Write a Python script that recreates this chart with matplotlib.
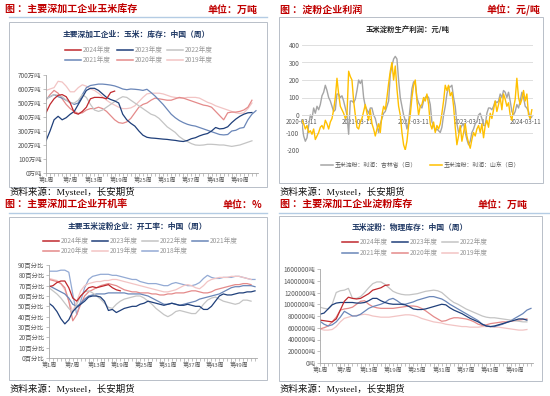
import numpy as np
import matplotlib.pyplot as plt
from matplotlib.lines import Line2D
from matplotlib.patches import Rectangle
from matplotlib.ticker import MultipleLocator, FuncFormatter

plt.rcParams['font.family'] = ['Noto Sans CJK SC', 'DejaVu Sans']
plt.rcParams['axes.unicode_minus'] = False

# ---- data: corn stock of deep-processing firms (10k t), by week ----
corn_2024 = [430, 490, 530, 555, 560, 545, 500, 430, 420, 440, 470, 530, 540, 540, 538, 530, 575, 585]
corn_2023 = [230, 300, 380, 405, 380, 395, 420, 440, 490, 540, 590, 605, 605, 590, 565, 540, 525, 515,
             500, 420, 380, 355, 335, 300, 270, 255, 250, 248, 245, 242, 240, 236, 233, 228, 225, 232,
             245, 252, 265, 275, 282, 300, 325, 315, 318, 330, 360, 385, 405, 420, 430, 432]
corn_2022 = [530, 545, 560, 555, 545, 520, 500, 500, 520, 560, 540, 490, 450, 440, 450, 470, 490, 510,
             530, 545, 540, 520, 500, 480, 460, 440, 420, 410, 390, 360, 330, 310, 290, 260, 240, 225,
             210, 200, 198, 200, 205, 205, 203, 200, 200, 195, 190, 195, 200, 210, 220, 230]
corn_2021 = [530, 545, 560, 545, 535, 520, 505, 490, 500, 560, 610, 625, 630, 635, 635, 632, 628, 622,
             612, 600, 595, 600, 598, 595, 590, 598, 575, 550, 520, 490, 455, 420, 395, 375, 360, 348,
             340, 335, 325, 315, 305, 295, 285, 275, 272, 275, 300, 305, 320, 325, 380, 420, 445]
corn_2020 = [520, 560, 590, 570, 530, 490, 460, 440, 425, 430, 450, 460, 460, 470, 460, 440, 410, 380,
             360, 355, 365, 390, 430, 470, 490, 500, 520, 535, 530, 525, 520, 520, 530, 540, 535, 525,
             515, 505, 495, 485, 480, 470, 440, 410, 380, 430, 435, 435, 440, 450, 470, 520]
corn_2019 = [590, 600, 610, 655, 650, 620, 580, 580, 610, 630, 620, 600, 590, 570, 545, 520, 500, 485,
             470, 460, 460, 465, 480, 510, 540, 565, 570, 570, 570, 565, 555, 545, 540, 535, 535, 540,
             540, 540, 535, 520, 505, 495, 480, 470, 460, 450, 440, 430, 425, 430, 460, 500]

# ---- data: starch profit (yuan/t), sampled along 2020-03 .. 2024-05 ----
profit_jilin = [-50, -120, -150, -130, -60, 0, -20, 40, 10, 50, 30, 60, 110, 130, 170, 140, 100, 80,
                50, 20, 30, 120, 120, 100, 110, 80, 40, 0, -110, 80, 80, 70, 90, 140, 200, 180, 200,
                100, 50, 30, 10, 40, 40, 0, -20, -60, -100, -50, -20, 10, 20, 50, 80, 230, 280, 320,
                335, 320, 200, 100, 50, 0, -30, -80, -40, 50, 150, 190, 180, 100, 70, 50, 40, 80, 100,
                110, 100, 60, -40, -60, -90, -80, -90, -100, -70, 0, 50, 120, 160, 160, 170, 100, 50,
                -50, -100, -80, -60, -50, -100, -140, -170, -150, -100, -80, -50, -40, 0, 10, -20,
                -60, -60, 10, 40, 40, 30, 50, 80, 70, 80, 120, 100, 140, 130, 100, 130, 80, 20, 0, 20,
                60, 40, 80, 130, 100, 50, 40, 20, -20, -10]
profit_shandong = [-30, -50, -80, -60, -100, -90, -110, -80, -140, -120, -100, -70, -60, -80, -30, -50,
                   -80, -40, -20, 30, 100, 210, 120, 50, 30, 10, -20, 0, 250, 220, 200, 80, 0, -70,
                   -80, -40, -20, 20, 60, 10, -30, 30, -50, -80, -120, -80, -50, -100, 0, 50, 30, 100,
                   180, 250, 300, 200, 280, 150, 50, 0, -100, -170, -200, -150, -60, 0, 100, 170, 200,
                   80, 0, 50, 60, 100, 80, 120, 60, -50, -80, -40, -100, -60, -80, -50, 10, 80, 170,
                   140, 170, 110, 130, 50, -70, -170, -120, -60, -150, -100, -50, -120, -160, -190,
                   -140, -100, -120, -80, -60, -100, -50, -130, -60, -30, -70, 10, -20, 30, 80, 20, 60,
                   100, 30, 120, 90, 50, 70, 0, -30, 40, 90, 210, 100, 60, 90, 140, 80, 120, 0, -20, 30]
profit_dates = ['2020-03-11', '2021-03-11', '2022-03-11', '2023-03-11', '2024-03-11']

# ---- data: corn starch plant operating rate (%), by week ----
rate_2024 = [69, 70, 73, 74.5, 74.5, 68, 58, 55, 60, 64, 68, 69, 68, 69, 70, 71, 68, 66, 65]
rate_2023 = [53, 50, 45, 38, 33, 37, 45, 49, 52, 55, 59, 60, 60, 59, 55, 46, 47, 44, 46, 48, 49, 50,
             50, 52, 53, 55, 54, 53, 52, 51, 52, 53, 52, 51, 51, 52, 51, 50, 50, 47, 47, 50, 55, 60,
             62, 61, 61, 62, 63, 63, 64, 64, 65]
rate_2022 = [68, 65, 62, 58, 53, 48, 44, 52, 60, 64, 65, 63, 60, 57, 53, 49, 48, 52, 55, 57, 58, 59,
             60, 60, 58, 55, 52, 48, 45, 42, 40, 42, 45, 46, 45, 44, 43, 43, 47, 52, 56, 58, 59, 57,
             55, 54, 53, 52, 53, 56, 56, 55]
rate_2021 = [70, 68, 66, 64, 62, 58, 52, 50, 53, 57, 60, 61, 62, 62, 62, 63, 63, 63, 63, 63, 62, 62,
             62, 62, 61, 60, 58, 56, 54, 52, 52, 53, 52, 51, 52, 53, 54, 55, 57, 58, 59, 60, 61, 62,
             64, 66, 68, 69, 69, 70, 70, 70, 69]
rate_2020 = [76, 75, 74, 72, 68, 55, 36, 42, 52, 60, 64, 66, 68, 70, 71, 72, 71, 70, 68, 66, 65, 64,
             64, 63, 63, 63, 62, 62, 61, 61, 62, 62, 63, 63, 63, 64, 65, 65, 64, 63, 63, 64, 66, 67,
             68, 69, 70, 71, 71, 72, 72, 71]
rate_2019 = [77, 76, 75, 72, 66, 55, 45, 55, 65, 70, 72, 73, 74, 74, 75, 75, 76, 76, 75, 74, 73, 72,
             71, 70, 69, 68, 67, 66, 65, 64, 64, 65, 66, 68, 70, 71, 70, 68, 67, 70, 74, 76, 77, 78,
             78, 78, 79, 79, 79, 78, 77, 76]
rate_2018 = [84, 84, 84, 85, 85, 83, 62, 42, 55, 68, 76, 79, 80, 81, 81, 81, 80, 80, 79, 78, 77, 76,
             76, 74, 73, 72, 72, 72, 71, 70, 70, 72, 73, 72, 71, 70, 70, 71, 73, 77, 80, 78, 77, 77,
             78, 78, 78, 79, 79, 78, 77, 76, 76]

# ---- data: corn starch physical stock (10k t), by week ----
starch_2024 = [73, 72, 71, 70, 75, 90, 105, 112, 110, 109, 110, 114, 118, 124, 126, 128, 132, 133]
starch_2023 = [83, 85, 92, 99, 102, 103, 103, 103, 103, 102, 102, 103, 106, 110, 110, 106, 103, 101,
               100, 100, 100, 99, 96, 92, 91, 91, 92, 94, 96, 98, 100, 99, 94, 90, 87, 84, 80, 76,
               73, 70, 66, 63, 62, 63, 65, 67, 69, 71, 73, 75, 75, 73]
starch_2022 = [95, 93, 92, 100, 120, 123, 124, 127, 110, 110, 113, 120, 128, 135, 138, 138, 134, 128,
               122, 119, 117, 116, 116, 117, 118, 120, 122, 123, 124, 123, 120, 114, 108, 103, 100,
               96, 92, 89, 86, 83, 80, 78, 77, 77, 76, 75, 74, 73, 72, 71, 70, 70]
starch_2021 = [71, 66, 63, 65, 70, 78, 88, 84, 80, 80, 83, 88, 93, 96, 98, 100, 103, 108, 110, 106,
               101, 100, 102, 104, 107, 109, 111, 113, 113, 111, 109, 105, 100, 96, 92, 88, 84, 80,
               76, 72, 66, 63, 62, 62, 64, 66, 69, 72, 76, 80, 84, 90, 93]
starch_2020 = [58, 60, 63, 70, 78, 90, 92, 93, 95, 100, 105, 106, 100, 96, 94, 93, 93, 93, 93, 94, 95,
               96, 97, 97, 96, 93, 89, 84, 79, 75, 71, 72, 75, 77, 77, 76, 75, 73, 70, 66, 64, 65,
               67, 68, 69, 70, 70, 71, 72, 73, 74, 75]
starch_2019 = [58, 56, 56, 57, 62, 70, 76, 78, 80, 81, 82, 83, 82, 80, 79, 78, 78, 78, 79, 80, 81, 82,
               82, 81, 79, 76, 74, 72, 70, 69, 68, 66, 65, 64, 63, 62, 62, 61, 61, 61, 62, 62, 62,
               61, 61, 60, 59, 58, 57, 56, 56, 57]

week_ticks = [1, 7, 13, 19, 25, 31, 37, 43, 49]
week_labels = [f'第{w}周' for w in week_ticks]

C24, C23, C22, C21 = '#C0282D', '#1F3F7A', '#C4C4C4', '#6A86B8'
C20, C19, C18 = '#E48A8A', '#F2C4C4', '#93AAD4'
RED, NAVY, BOX, HLINE = '#C00000', '#1F3864', '#B8BFC8', '#B4CCE4'

W, H = 550, 396
fig = plt.figure(figsize=(W / 100, H / 100), dpi=100)


def ftext(x, y, s, **kw):
    fig.text(x / W, 1 - y / H, s, **kw)


def fline(x0, x1, y0, y1, **kw):
    fig.add_artist(Line2D([x0 / W, x1 / W], [1 - y0 / H, 1 - y1 / H],
                          transform=fig.transFigure, **kw))


def fbox(x0, y0, x1, y1):
    fig.add_artist(Rectangle((x0 / W, 1 - y1 / H), (x1 - x0) / W, (y1 - y0) / H,
                             transform=fig.transFigure, fill=False, ec=BOX, lw=0.7))


def axes_px(l, t, r, b):
    ax = fig.add_axes([l / W, 1 - b / H, (r - l) / W, (b - t) / H])
    ax.patch.set_alpha(0)
    return ax


def header(x, y, title, unit, unit_right):
    ftext(x, y, title, fontsize=7.2, fontweight='bold', color=RED, va='center')
    ftext(unit_right, y, unit, fontsize=7.2, fontweight='bold', color=RED, va='center', ha='right')


def source(x, y):
    ftext(x, y, '资料来源：Mysteel，长安期货', fontsize=6.8, color='#111111', va='center',
          family=['Liberation Serif', 'Noto Sans CJK SC'])


def legend(entries, xs, ys, size=4.8):
    for (label, color), x, y in zip(entries, xs, ys):
        fline(x, x + 16, y, y, color=color, lw=1.1)
        ftext(x + 18, y, label, fontsize=size, color='#999999', va='center')


def week_panel(ax, series, ymax, step, fmt):
    for vals, color in series[::-1]:
        ax.plot(np.arange(1, len(vals) + 1), vals, color=color, lw=0.9)
    ax.set_xlim(1, 53.5)
    ax.set_ylim(0, ymax)
    ax.yaxis.set_major_locator(MultipleLocator(step))
    ax.yaxis.set_major_formatter(FuncFormatter(fmt))
    ax.set_xticks(week_ticks)
    ax.set_xticklabels(week_labels)
    ax.xaxis.set_minor_locator(MultipleLocator(1))
    for s in ['top', 'right']:
        ax.spines[s].set_visible(False)
    for s in ['left', 'bottom']:
        ax.spines[s].set_color('#A6A6A6')
        ax.spines[s].set_linewidth(0.6)
    ax.tick_params(axis='both', which='both', color='#A6A6A6', length=2, width=0.5, pad=1.2,
                   labelcolor='#595959')
    ax.tick_params(axis='y', labelsize=4.6)
    ax.tick_params(axis='x', labelsize=4.3)


# ================= top-left: corn stock =================
header(5, 10, '图 ：主要深加工企业玉米库存', '单位：万吨', 258)
fline(9, 267, 17, 17, color=HLINE, lw=1)
fbox(9, 22, 267, 187)
ftext(136, 34, '主要深加工企业：玉米：库存：中国（周）', fontsize=5.6, fontweight='bold',
      color=NAVY, ha='center', va='center')
legend([('2024年度', C24), ('2023年度', C23), ('2022年度', C22),
        ('2021年度', C21), ('2020年度', C20), ('2019年度', C19)],
       [65, 117, 167, 65, 117, 167], [50, 50, 50, 60, 60, 60])
ax = axes_px(46, 75, 258, 173)
week_panel(ax, [(corn_2024, C24), (corn_2023, C23), (corn_2022, C22), (corn_2021, C21),
                (corn_2020, C20), (corn_2019, C19)], 700, 100, lambda v, p: f'{int(v)}万吨')
source(10, 192)

# ================= top-right: starch profit =================
header(280, 10, '图 ：淀粉企业利润', '单位：元/吨', 540)
fbox(279, 17, 543, 183)
ftext(408, 29, '玉米淀粉生产利润：元/吨', fontsize=5.3, fontweight='bold', color='#262626',
      ha='center', va='center')
ax = axes_px(302, 45, 533, 150)
step = 5 / 167.5
ax.plot(np.arange(len(profit_jilin)) * step, profit_jilin, color='#A5A5A5', lw=1.0)
ax.plot(np.arange(len(profit_shandong)) * step, profit_shandong, color='#FFC000', lw=1.0)
ax.set_xlim(0, 4.14)
ax.set_ylim(-200, 400)
ax.yaxis.set_major_locator(MultipleLocator(100))
ax.grid(axis='y', color='#D9D9D9', lw=0.6)
ax.set_axisbelow(True)
for s in ['top', 'right', 'left']:
    ax.spines[s].set_visible(False)
ax.spines['bottom'].set_position(('data', 0))
ax.spines['bottom'].set_color('#D9D9D9')
ax.spines['bottom'].set_linewidth(0.6)
ax.set_xticks(range(len(profit_dates)))
ax.set_xticklabels(profit_dates)
ax.tick_params(axis='both', length=0, labelcolor='#595959', labelsize=4.6, pad=2)
ax.tick_params(axis='x', labelsize=4.4, pad=2.5)
fline(321, 333, 165, 165, color='#A5A5A5', lw=1.1)
ftext(335, 165, '玉米淀粉：利润：吉林省（日）', fontsize=4.2, color='#595959', va='center')
fline(430, 442, 165, 165, color='#FFC000', lw=1.1)
ftext(444, 165, '玉米淀粉：利润：山东（日）', fontsize=4.2, color='#595959', va='center')
source(280, 192)

# ================= bottom-left: operating rate =================
header(5, 205, '图 ：主要深加工企业开机率', '单位：%', 262)
fline(9, 267, 213, 213, color=HLINE, lw=1)
fbox(9, 217, 267, 380)
ftext(137, 226, '主要玉米淀粉企业：开工率：中国（周）', fontsize=5.6, fontweight='bold',
      color=NAVY, ha='center', va='center')
legend([('2024年度', C24), ('2023年度', C23), ('2022年度', C22), ('2021年度', C21),
        ('2020年度', C20), ('2019年度', C19), ('2018年度', C18)],
       [43, 92, 142, 192, 43, 92, 142], [241, 241, 241, 241, 251, 251, 251])
ax = axes_px(49, 265, 257, 358)
week_panel(ax, [(rate_2024, C24), (rate_2023, C23), (rate_2022, C22), (rate_2021, C21),
                (rate_2020, C20), (rate_2019, C19), (rate_2018, C18)], 90, 10,
           lambda v, p: f'{int(v)}百分比')
source(10, 389)

# ================= bottom-right: starch stock =================
header(280, 205, '图 ：主要深加工企业淀粉库存', '单位：万吨', 528)
fline(279, 550, 213, 213, color=HLINE, lw=1)
fbox(279, 216, 542, 381)
ftext(410, 227, '玉米淀粉：物理库存：中国（周）', fontsize=5.6, fontweight='bold',
      color=NAVY, ha='center', va='center')
legend([('2024年度', C24), ('2023年度', C23), ('2022年度', C22),
        ('2021年度', C21), ('2020年度', C20), ('2019年度', C19)],
       [342, 392, 442, 342, 392, 442], [242, 242, 242, 253, 253, 253])
ax = axes_px(320, 269, 533, 363)
week_panel(ax, [(starch_2024, C24), (starch_2023, C23), (starch_2022, C22), (starch_2021, C21),
                (starch_2020, C20), (starch_2019, C19)], 160, 20,
           lambda v, p: f'{int(round(v * 10000))}吨')
source(280, 389)

fig.savefig('out.png', dpi=100)
